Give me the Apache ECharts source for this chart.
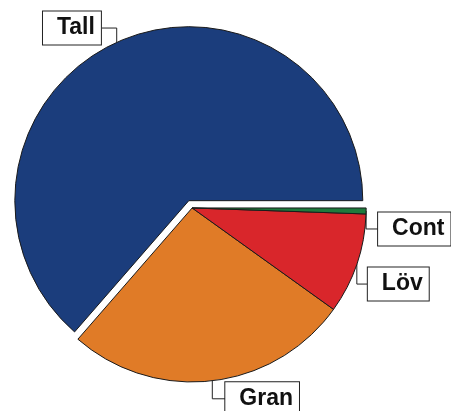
<!DOCTYPE html>
<html>
<head>
<meta charset="utf-8">
<script src="https://cdn.jsdelivr.net/npm/echarts@6/dist/echarts.min.js"></script>
<style>
  html, body { margin: 0; padding: 0; background: #fff; }
  #pie { width: 451px; height: 411px; }
</style>
</head>
<body>
<div id="pie"></div>
<script>
// andel per trädslag (%)
var names = ['Tall', 'Gran', 'Löv', 'Cont'];
var shares = [63.6, 26.5, 9.35, 0.55];
var colors = ['#1b3d7c', '#e07b27', '#d9262b', '#1f7a3c'];
var exploded = 'Tall';

// label box relative to the slice's edge point: [dx, dy, side]
var labelPos = {
  'Gran': [13, 18, 'left'],
  'Löv': [11, 20, 'left'],
  'Cont': [12, 18, 'left']
};

var data = names.map(function (n, i) {
  var item = {
    name: n,
    value: shares[i],
    selected: n === exploded,
    itemStyle: { color: colors[i] }
  };
  // the selected label keeps the pie's own position, so steer it with the line lengths
  if (n === exploded) item.labelLine = { length: 15.7, length2: 4.3 };
  return item;
});

var chart = echarts.init(document.getElementById('pie'));

var option = {
  backgroundColor: '#fff',
  animation: false,
  series: [{
    type: 'pie',
    center: ['42.6%', '50.6%'],
    radius: 174,
    startAngle: 0,
    clockwise: false,
    selectedMode: 'single',
    selectedOffset: 8,
    avoidLabelOverlap: false,
    itemStyle: { borderColor: '#1a1a1a', borderWidth: 1 },
    label: {
      show: true,
      position: 'outside',
      formatter: '{b}',
      color: '#111',
      fontFamily: 'Liberation Sans',
      fontWeight: 'bold',
      fontSize: 23,
      lineHeight: 24,
      backgroundColor: '#fff',
      borderColor: '#222',
      borderWidth: 1,
      padding: [5, 6, 4, 14]
    },
    labelLine: {
      show: true,
      length: 5,
      length2: 5,
      lineStyle: { color: '#222', width: 1 }
    },
    labelLayout: function (p) {
      var a = p.labelLinePoints[0];
      if (p.text === exploded) {
        var r = p.labelRect;
        var cy = r.y + r.height / 2;
        var ex = r.x + r.width;
        return { labelLinePoints: [[a[0], a[1]], [a[0], cy], [ex, cy]] };
      }
      var pos = labelPos[p.text];
      var lx = a[0] + pos[0];
      var ly = a[1] + pos[1];
      return {
        x: lx,
        y: ly,
        align: pos[2],
        verticalAlign: 'middle',
        labelLinePoints: [[a[0], a[1]], [a[0], ly], [lx, ly]]
      };
    },
    emphasis: { disabled: true },
    data: data
  }]
};

chart.setOption(option);
</script>
</body>
</html>
